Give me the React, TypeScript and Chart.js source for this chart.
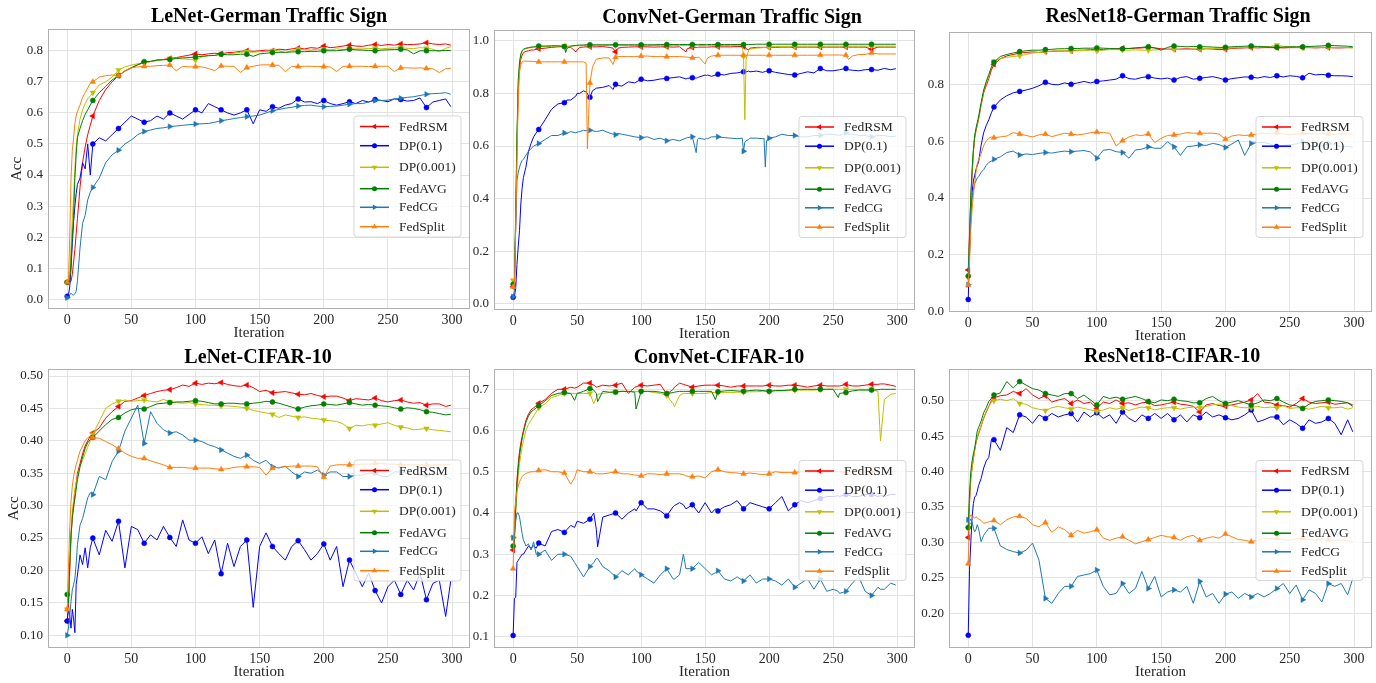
import React, { useEffect, useRef } from "react";
import { Chart, registerables } from "chart.js";

Chart.register(...registerables);

const FONT = "'Liberation Serif', 'Times New Roman', Times, serif";
const TEXT_COLOR = "#262626";
const GRID_COLOR = "#e3e3e3";
const SPINE_COLOR = "#b0b0b0";

// ---------------- series meta ----------------
const SERIES_NAMES = ["FedRSM", "DP(0.1)", "DP(0.001)", "FedAVG", "FedCG", "FedSplit"];
const SERIES_COLORS = ["#ff0000", "#0000ff", "#bfbf00", "#008000", "#1f77b4", "#ff7f0e"];
const SERIES_MARKERS = ["triangle", "circle", "triangle", "circle", "triangle", "triangle"];
const SERIES_MARKER_ROT = [270, 0, 180, 0, 90, 0];
const SERIES_MARKER_R = [3.2, 2.5, 3.2, 2.5, 3.2, 3.2];

const X_TICKS = [0, 50, 100, 150, 200, 250, 300];

// ---------------- iterations ----------------
const ITER_BASE = [0,1,2,3,4,5,6,7,8,10,12,14,16,18,20,
  25,30,35,40,45,50,55,60,65,70,75,80,85,90,95,100,
  105,110,115,120,125,130,135,140,145,150,155,160,165,170,175,180,185,190,195,200,
  205,210,215,220,225,230,235,240,245,250,255,260,265,270,275,280,285,290,295,299];

const ITER_CONV_GTS = [0,1,2,3,4,5,6,7,8,10,12,14,16,18,20,
  25,30,35,40,41,42,45,49,50,52,55,57,58,59,60,62,65,70,75,78,80,82,85,90,95,100,
  105,110,115,120,125,130,135,136,140,143,144,145,150,151,152,155,160,165,170,175,179,180,181,182,184,185,190,195,196,197,198,200,
  205,210,215,220,225,230,235,240,245,250,255,260,262,265,270,275,280,285,290,295,299];

const ITER_CONV_CIFAR = [0,1,2,3,4,5,6,7,8,10,12,14,16,18,20,
  25,30,35,40,45,48,50,55,60,63,65,66,70,75,80,85,90,95,96,100,
  105,110,115,120,125,126,130,133,135,140,145,150,155,158,160,165,170,175,180,185,190,195,200,
  205,210,215,220,225,230,235,240,245,250,254,255,260,265,270,275,280,285,287,290,295,299];

// ---------------- LeNet - German Traffic Sign ----------------
const LENET_GTS_FEDRSM = [0.055,0.056,0.056,0.058,0.08,0.12,0.16,0.21,0.26,0.36,0.44,0.49,0.53,0.56,0.59,
  0.64,0.675,0.70,0.72,0.735,0.745,0.755,0.762,0.765,0.77,0.772,0.775,0.778,0.782,0.786,0.79,
  0.787,0.79,0.792,0.79,0.794,0.795,0.798,0.80,0.798,0.80,0.802,0.80,0.805,0.803,0.806,0.808,0.806,0.81,0.808,0.815,
  0.81,0.812,0.815,0.818,0.815,0.814,0.818,0.82,0.817,0.82,0.818,0.822,0.82,0.82,0.822,0.826,0.822,0.82,0.822,0.818];
const LENET_GTS_DP01 = [0.01,0.015,0.04,0.10,0.18,0.25,0.30,0.34,0.37,0.39,0.44,0.42,0.50,0.40,0.50,
  0.52,0.51,0.53,0.55,0.57,0.59,0.58,0.57,0.575,0.59,0.58,0.60,0.59,0.58,0.595,0.61,
  0.60,0.63,0.62,0.61,0.60,0.593,0.60,0.61,0.565,0.61,0.605,0.62,0.615,0.625,0.63,0.645,0.635,0.636,0.63,0.64,
  0.63,0.625,0.63,0.636,0.63,0.64,0.635,0.643,0.64,0.636,0.645,0.643,0.638,0.64,0.648,0.617,0.635,0.64,0.645,0.62];
const LENET_GTS_DP0001 = [0.055,0.058,0.08,0.17,0.26,0.33,0.42,0.49,0.53,0.58,0.61,0.63,0.645,0.655,0.665,
  0.69,0.70,0.715,0.738,0.748,0.754,0.758,0.761,0.765,0.768,0.772,0.775,0.776,0.774,0.772,0.77,
  0.78,0.785,0.785,0.79,0.79,0.792,0.795,0.797,0.795,0.797,0.798,0.80,0.80,0.794,0.80,0.805,0.803,0.802,0.805,0.805,
  0.803,0.806,0.804,0.807,0.806,0.806,0.807,0.808,0.806,0.808,0.809,0.81,0.808,0.807,0.81,0.808,0.805,0.797,0.808,0.813];
const LENET_GTS_FEDAVG = [0.055,0.056,0.06,0.12,0.2,0.27,0.39,0.465,0.52,0.55,0.575,0.595,0.61,0.625,0.64,
  0.665,0.685,0.706,0.72,0.735,0.745,0.755,0.765,0.766,0.77,0.771,0.772,0.775,0.777,0.778,0.78,
  0.782,0.784,0.785,0.789,0.787,0.787,0.789,0.789,0.782,0.79,0.792,0.794,0.795,0.795,0.796,0.797,0.797,0.798,0.798,0.80,
  0.80,0.80,0.802,0.805,0.803,0.802,0.801,0.80,0.802,0.803,0.804,0.805,0.803,0.79,0.80,0.80,0.80,0.80,0.801,0.80];
const LENET_GTS_FEDCG = [0.005,0.008,0.015,0.02,0.015,0.014,0.018,0.025,0.06,0.165,0.245,0.27,0.32,0.345,0.36,
  0.39,0.44,0.465,0.48,0.50,0.513,0.53,0.54,0.545,0.55,0.552,0.556,0.558,0.56,0.562,0.564,
  0.565,0.566,0.57,0.575,0.578,0.582,0.585,0.588,0.59,0.593,0.60,0.607,0.611,0.615,0.618,0.622,0.624,0.625,0.622,0.62,
  0.621,0.622,0.625,0.628,0.63,0.63,0.635,0.64,0.64,0.641,0.645,0.647,0.65,0.652,0.656,0.66,0.662,0.663,0.665,0.66];
const LENET_GTS_FEDSPLIT = [0.055,0.06,0.2,0.39,0.48,0.52,0.565,0.59,0.605,0.625,0.65,0.665,0.68,0.695,0.70,
  0.715,0.72,0.722,0.72,0.735,0.745,0.748,0.75,0.75,0.752,0.753,0.754,0.736,0.75,0.748,0.749,
  0.748,0.743,0.736,0.751,0.75,0.75,0.73,0.746,0.75,0.754,0.755,0.754,0.753,0.733,0.75,0.749,0.75,0.75,0.749,0.749,
  0.748,0.733,0.75,0.75,0.75,0.75,0.749,0.75,0.75,0.75,0.733,0.745,0.745,0.744,0.745,0.743,0.742,0.73,0.742,0.743];

// ---------------- ConvNet - German Traffic Sign ----------------
const CONV_GTS_FEDRSM = [0.065,0.07,0.30,0.60,0.82,0.90,0.93,0.945,0.955,0.96,0.962,0.965,0.965,0.968,0.97,
  0.972,0.975,0.977,0.978,0.978,0.977,0.975,0.958,0.965,0.975,0.976,0.977,0.977,0.977,0.977,0.977,0.977,0.978,0.975,0.972,0.958,0.972,0.975,0.976,0.977,0.977,
  0.977,0.976,0.977,0.977,0.976,0.977,0.958,0.97,0.975,0.975,0.975,0.976,0.976,0.976,0.976,0.977,0.977,0.977,0.977,0.978,0.978,0.978,0.978,0.97,0.965,0.972,0.975,0.975,0.975,0.975,0.975,0.975,
  0.975,0.976,0.976,0.976,0.976,0.976,0.976,0.976,0.976,0.976,0.976,0.976,0.976,0.976,0.976,0.976,0.968,0.976,0.976,0.976,0.976];
const CONV_GTS_DP01 = [0.025,0.027,0.06,0.15,0.22,0.28,0.38,0.44,0.48,0.52,0.58,0.61,0.635,0.65,0.663,
  0.70,0.74,0.76,0.765,0.76,0.775,0.775,0.79,0.80,0.80,0.81,0.805,0.80,0.79,0.785,0.81,0.82,0.823,0.83,0.815,0.835,0.83,0.828,0.844,0.84,0.854,
  0.848,0.85,0.855,0.857,0.86,0.863,0.855,0.857,0.86,0.858,0.86,0.862,0.87,0.868,0.87,0.865,0.873,0.87,0.876,0.878,0.882,0.882,0.88,0.882,0.885,0.882,0.885,0.88,0.882,0.883,0.884,0.886,
  0.88,0.876,0.872,0.87,0.876,0.882,0.878,0.895,0.886,0.886,0.89,0.895,0.89,0.888,0.886,0.89,0.891,0.888,0.895,0.89,0.894];
const CONV_GTS_DP0001 = [0.09,0.09,0.33,0.62,0.84,0.91,0.945,0.96,0.966,0.97,0.972,0.974,0.975,0.976,0.978,
  0.978,0.979,0.98,0.981,0.981,0.98,0.98,0.981,0.981,0.981,0.982,0.982,0.982,0.982,0.982,0.982,0.982,0.982,0.982,0.982,0.982,0.982,0.982,0.982,0.982,0.982,
  0.982,0.982,0.982,0.982,0.982,0.982,0.982,0.982,0.982,0.982,0.982,0.982,0.982,0.982,0.982,0.982,0.982,0.982,0.982,0.982,0.982,0.94,0.70,0.93,0.965,0.968,0.972,0.974,0.975,0.975,0.975,0.976,
  0.978,0.978,0.979,0.979,0.98,0.98,0.98,0.98,0.98,0.98,0.98,0.98,0.98,0.98,0.98,0.98,0.98,0.98,0.98,0.98,0.98];
const CONV_GTS_FEDAVG = [0.075,0.08,0.35,0.65,0.85,0.92,0.95,0.962,0.968,0.972,0.974,0.976,0.977,0.978,0.98,
  0.98,0.981,0.981,0.978,0.955,0.97,0.98,0.982,0.983,0.984,0.984,0.985,0.985,0.985,0.985,0.985,0.985,0.985,0.985,0.985,0.985,0.985,0.985,0.985,0.985,0.985,
  0.985,0.985,0.986,0.986,0.986,0.986,0.986,0.986,0.986,0.986,0.986,0.986,0.986,0.986,0.986,0.986,0.986,0.986,0.986,0.986,0.986,0.986,0.986,0.986,0.986,0.986,0.987,0.987,0.987,0.987,0.987,0.987,
  0.987,0.987,0.987,0.987,0.987,0.987,0.987,0.987,0.987,0.987,0.987,0.987,0.987,0.987,0.987,0.987,0.987,0.987,0.987,0.987,0.987];
const CONV_GTS_FEDCG = [0.027,0.05,0.30,0.47,0.50,0.52,0.535,0.545,0.55,0.565,0.58,0.59,0.60,0.605,0.61,
  0.625,0.64,0.64,0.65,0.645,0.648,0.655,0.65,0.653,0.655,0.66,0.658,0.66,0.662,0.66,0.658,0.655,0.66,0.65,0.645,0.643,0.648,0.645,0.64,0.635,0.632,
  0.635,0.625,0.63,0.62,0.625,0.62,0.63,0.632,0.635,0.575,0.625,0.63,0.625,0.63,0.628,0.635,0.635,0.632,0.63,0.628,0.63,0.58,0.615,0.62,0.625,0.63,0.63,0.628,0.63,0.52,0.62,0.63,
  0.635,0.645,0.64,0.64,0.635,0.635,0.64,0.64,0.645,0.645,0.64,0.65,0.645,0.645,0.64,0.64,0.635,0.64,0.64,0.635,0.638];
const CONV_GTS_FEDSPLIT = [0.065,0.07,0.28,0.55,0.78,0.88,0.91,0.92,0.923,0.923,0.922,0.922,0.921,0.921,0.92,
  0.92,0.92,0.92,0.92,0.92,0.92,0.92,0.92,0.92,0.92,0.92,0.915,0.59,0.72,0.84,0.90,0.93,0.935,0.935,0.91,0.937,0.94,0.94,0.94,0.94,0.942,
  0.942,0.94,0.94,0.94,0.94,0.94,0.938,0.938,0.935,0.937,0.937,0.938,0.912,0.925,0.935,0.942,0.945,0.945,0.945,0.945,0.945,0.945,0.945,0.945,0.945,0.945,0.945,0.945,0.945,0.945,0.945,0.945,
  0.945,0.945,0.945,0.945,0.945,0.945,0.945,0.946,0.946,0.946,0.946,0.945,0.929,0.942,0.948,0.948,0.954,0.95,0.95,0.95,0.95];

// ---------------- ResNet18 - German Traffic Sign ----------------
const RES_GTS_FEDRSM = [0.147,0.27,0.40,0.48,0.56,0.61,0.635,0.655,0.675,0.725,0.77,0.795,0.82,0.85,0.87,
  0.89,0.90,0.905,0.91,0.912,0.914,0.912,0.915,0.916,0.917,0.917,0.918,0.92,0.92,0.922,0.923,
  0.922,0.924,0.925,0.927,0.926,0.927,0.928,0.93,0.928,0.925,0.924,0.923,0.924,0.925,0.924,0.923,0.925,0.924,0.922,0.923,
  0.926,0.927,0.928,0.929,0.928,0.929,0.929,0.929,0.928,0.929,0.929,0.929,0.929,0.928,0.929,0.929,0.928,0.928,0.929,0.929];
const RES_GTS_DP01 = [0.043,0.20,0.33,0.42,0.46,0.48,0.50,0.515,0.525,0.585,0.63,0.655,0.675,0.70,0.72,
  0.745,0.76,0.77,0.775,0.78,0.786,0.795,0.807,0.80,0.798,0.805,0.80,0.805,0.81,0.805,0.81,
  0.812,0.815,0.818,0.83,0.82,0.818,0.824,0.827,0.822,0.819,0.822,0.815,0.824,0.827,0.818,0.821,0.824,0.827,0.822,0.815,
  0.82,0.823,0.826,0.825,0.822,0.827,0.824,0.83,0.826,0.83,0.828,0.823,0.839,0.833,0.835,0.832,0.83,0.83,0.829,0.827];
const RES_GTS_DP0001 = [0.12,0.25,0.39,0.49,0.565,0.615,0.64,0.66,0.68,0.73,0.775,0.805,0.83,0.86,0.88,
  0.89,0.895,0.898,0.90,0.905,0.91,0.912,0.915,0.917,0.918,0.918,0.917,0.918,0.919,0.92,0.918,
  0.92,0.922,0.922,0.921,0.92,0.921,0.92,0.92,0.921,0.922,0.923,0.923,0.922,0.923,0.924,0.925,0.926,0.926,0.926,0.927,
  0.928,0.929,0.93,0.931,0.932,0.932,0.933,0.938,0.933,0.932,0.931,0.93,0.93,0.93,0.93,0.931,0.93,0.93,0.929,0.928];
const RES_GTS_FEDAVG = [0.126,0.26,0.41,0.50,0.57,0.62,0.645,0.665,0.685,0.735,0.78,0.81,0.835,0.86,0.878,
  0.898,0.905,0.91,0.915,0.918,0.92,0.92,0.922,0.923,0.925,0.925,0.926,0.926,0.927,0.927,0.928,
  0.927,0.926,0.925,0.925,0.926,0.928,0.93,0.932,0.928,0.92,0.93,0.935,0.933,0.932,0.933,0.932,0.932,0.931,0.93,0.93,
  0.932,0.933,0.934,0.935,0.933,0.932,0.931,0.93,0.931,0.932,0.932,0.932,0.933,0.934,0.935,0.937,0.936,0.935,0.934,0.932];
const RES_GTS_FEDCG = [0.095,0.22,0.34,0.40,0.43,0.45,0.46,0.47,0.475,0.49,0.50,0.515,0.525,0.53,0.536,
  0.545,0.56,0.565,0.551,0.555,0.553,0.557,0.56,0.558,0.562,0.565,0.563,0.565,0.567,0.562,0.54,
  0.568,0.571,0.563,0.56,0.54,0.569,0.572,0.58,0.575,0.575,0.598,0.58,0.55,0.58,0.583,0.587,0.585,0.592,0.588,0.578,
  0.59,0.604,0.55,0.592,0.595,0.595,0.59,0.58,0.585,0.587,0.59,0.598,0.585,0.58,0.583,0.592,0.588,0.58,0.582,0.578];
const RES_GTS_FEDSPLIT = [0.094,0.17,0.29,0.36,0.41,0.45,0.49,0.52,0.535,0.555,0.585,0.60,0.61,0.615,0.612,
  0.615,0.618,0.63,0.625,0.62,0.615,0.622,0.625,0.616,0.622,0.628,0.625,0.622,0.625,0.63,0.632,
  0.63,0.628,0.583,0.602,0.615,0.622,0.62,0.625,0.595,0.61,0.62,0.622,0.625,0.63,0.628,0.628,0.628,0.628,0.625,0.607,
  0.618,0.622,0.62,0.622,0.625,0.628,0.625,0.63,0.625,0.622,0.625,0.628,0.626,0.628,0.627,0.625,0.624,0.626,0.625,0.625];

// ---------------- LeNet - CIFAR-10 ----------------
const LENET_CIFAR_FEDRSM = [0.122,0.142,0.20,0.25,0.285,0.296,0.32,0.335,0.35,0.365,0.38,0.392,0.40,0.407,0.412,
  0.42,0.435,0.445,0.453,0.461,0.462,0.466,0.47,0.473,0.476,0.478,0.479,0.482,0.486,0.484,0.489,
  0.487,0.489,0.488,0.49,0.487,0.485,0.484,0.486,0.482,0.476,0.478,0.474,0.475,0.476,0.474,0.472,0.471,0.473,0.47,0.468,
  0.469,0.469,0.466,0.462,0.465,0.464,0.463,0.466,0.462,0.46,0.462,0.463,0.46,0.458,0.459,0.455,0.457,0.457,0.453,0.455];
const LENET_CIFAR_DP01 = [0.122,0.142,0.13,0.111,0.14,0.125,0.104,0.178,0.193,0.224,0.209,0.235,0.204,0.235,0.25,
  0.224,0.262,0.245,0.276,0.204,0.268,0.263,0.242,0.255,0.247,0.268,0.251,0.237,0.278,0.247,0.242,
  0.252,0.226,0.247,0.195,0.242,0.206,0.237,0.247,0.143,0.237,0.258,0.237,0.226,0.216,0.237,0.246,0.232,0.216,0.226,0.241,
  0.216,0.237,0.175,0.216,0.196,0.175,0.196,0.169,0.15,0.175,0.185,0.163,0.185,0.17,0.196,0.155,0.18,0.185,0.129,0.185];
const LENET_CIFAR_DP0001 = [0.14,0.16,0.21,0.26,0.29,0.31,0.325,0.335,0.345,0.36,0.37,0.38,0.39,0.40,0.41,
  0.43,0.45,0.457,0.461,0.463,0.461,0.462,0.463,0.461,0.46,0.464,0.46,0.459,0.458,0.459,0.457,
  0.456,0.455,0.455,0.454,0.454,0.453,0.452,0.45,0.447,0.445,0.443,0.441,0.436,0.44,0.438,0.436,0.437,0.435,0.434,0.432,
  0.431,0.43,0.426,0.419,0.424,0.423,0.425,0.424,0.426,0.428,0.424,0.421,0.42,0.417,0.418,0.419,0.417,0.416,0.415,0.414];
const LENET_CIFAR_FEDAVG = [0.163,0.15,0.21,0.255,0.28,0.30,0.31,0.325,0.34,0.36,0.375,0.388,0.397,0.402,0.405,
  0.415,0.425,0.433,0.436,0.443,0.448,0.45,0.449,0.453,0.457,0.458,0.459,0.46,0.46,0.461,0.462,
  0.461,0.459,0.457,0.457,0.458,0.458,0.457,0.457,0.458,0.459,0.461,0.46,0.458,0.455,0.452,0.449,0.452,0.454,0.455,0.457,
  0.456,0.455,0.457,0.459,0.457,0.455,0.456,0.455,0.454,0.453,0.451,0.449,0.451,0.45,0.448,0.445,0.444,0.442,0.44,0.441];
const LENET_CIFAR_FEDCG = [0.10,0.111,0.13,0.152,0.17,0.178,0.188,0.21,0.24,0.27,0.28,0.296,0.312,0.32,0.317,
  0.345,0.34,0.368,0.384,0.415,0.435,0.455,0.396,0.445,0.427,0.417,0.412,0.414,0.409,0.401,0.401,
  0.399,0.394,0.391,0.386,0.381,0.376,0.373,0.378,0.37,0.365,0.37,0.36,0.358,0.361,0.352,0.345,0.352,0.35,0.355,0.347,
  0.352,0.352,0.345,0.345,0.347,0.347,0.35,0.35,0.345,0.345,0.352,0.352,0.35,0.35,0.347,0.347,0.35,0.35,0.345,0.34];
const LENET_CIFAR_FEDSPLIT = [0.14,0.204,0.266,0.307,0.33,0.345,0.355,0.363,0.37,0.384,0.392,0.40,0.405,0.407,0.405,
  0.404,0.399,0.394,0.388,0.381,0.376,0.373,0.373,0.369,0.366,0.363,0.359,0.359,0.359,0.358,0.358,
  0.358,0.358,0.357,0.356,0.357,0.359,0.36,0.36,0.36,0.359,0.347,0.358,0.359,0.36,0.361,0.361,0.361,0.361,0.36,0.344,
  0.361,0.363,0.363,0.363,0.363,0.364,0.364,0.365,0.365,0.364,0.364,0.363,0.363,0.363,0.363,0.363,0.363,0.363,0.363,0.363];

// ---------------- ConvNet - CIFAR-10 ----------------
const CONV_CIFAR_FEDRSM = [0.31,0.33,0.42,0.48,0.52,0.55,0.57,0.585,0.60,0.625,0.64,0.65,0.655,0.66,0.666,
  0.675,0.69,0.70,0.70,0.705,0.703,0.705,0.715,0.715,0.71,0.705,0.706,0.71,0.708,0.71,0.715,0.69,0.705,0.706,0.71,
  0.708,0.71,0.712,0.688,0.70,0.705,0.715,0.712,0.71,0.705,0.708,0.71,0.71,0.71,0.71,0.708,0.705,0.708,0.708,0.708,0.708,0.708,0.71,
  0.708,0.708,0.71,0.71,0.708,0.705,0.708,0.71,0.708,0.708,0.708,0.708,0.712,0.708,0.708,0.71,0.712,0.712,0.713,0.713,0.71,0.707];
const CONV_CIFAR_DP01 = [0.103,0.193,0.195,0.28,0.285,0.29,0.295,0.30,0.30,0.31,0.32,0.315,0.32,0.315,0.327,
  0.32,0.355,0.36,0.353,0.37,0.365,0.38,0.375,0.385,0.40,0.36,0.318,0.39,0.395,0.40,0.385,0.40,0.41,0.405,0.425,
  0.41,0.41,0.405,0.393,0.415,0.418,0.425,0.42,0.41,0.42,0.40,0.425,0.40,0.41,0.405,0.415,0.42,0.43,0.41,0.425,0.42,0.415,0.41,
  0.425,0.44,0.405,0.42,0.43,0.425,0.43,0.435,0.44,0.44,0.442,0.44,0.445,0.44,0.44,0.445,0.445,0.44,0.442,0.44,0.445,0.445];
const CONV_CIFAR_DP0001 = [0.34,0.35,0.40,0.45,0.49,0.52,0.54,0.56,0.575,0.60,0.615,0.625,0.635,0.645,0.655,
  0.665,0.68,0.685,0.69,0.69,0.69,0.69,0.69,0.69,0.665,0.68,0.688,0.69,0.692,0.695,0.695,0.695,0.695,0.695,0.695,
  0.695,0.692,0.69,0.685,0.665,0.658,0.685,0.69,0.69,0.69,0.69,0.69,0.692,0.692,0.692,0.692,0.692,0.693,0.693,0.694,0.694,0.695,0.695,
  0.696,0.696,0.697,0.698,0.698,0.698,0.698,0.70,0.70,0.70,0.70,0.70,0.70,0.70,0.70,0.70,0.70,0.695,0.575,0.675,0.688,0.69];
const CONV_CIFAR_FEDAVG = [0.32,0.34,0.41,0.47,0.51,0.54,0.56,0.58,0.595,0.62,0.635,0.645,0.65,0.655,0.66,
  0.672,0.685,0.69,0.692,0.69,0.673,0.69,0.695,0.702,0.698,0.69,0.67,0.695,0.693,0.693,0.695,0.695,0.693,0.652,0.695,
  0.695,0.695,0.693,0.69,0.692,0.693,0.695,0.695,0.695,0.695,0.695,0.695,0.695,0.675,0.694,0.696,0.697,0.696,0.695,0.697,0.698,0.697,0.695,
  0.697,0.697,0.698,0.70,0.70,0.70,0.70,0.70,0.70,0.70,0.68,0.69,0.692,0.696,0.698,0.698,0.698,0.699,0.70,0.70,0.70,0.70];
const CONV_CIFAR_FEDCG = [0.34,0.35,0.38,0.40,0.40,0.39,0.37,0.35,0.335,0.32,0.325,0.31,0.33,0.30,0.30,
  0.31,0.285,0.30,0.30,0.295,0.28,0.27,0.245,0.27,0.28,0.29,0.29,0.27,0.26,0.245,0.26,0.25,0.265,0.26,0.25,
  0.24,0.23,0.25,0.265,0.24,0.24,0.25,0.30,0.265,0.265,0.28,0.265,0.25,0.255,0.26,0.24,0.235,0.245,0.235,0.25,0.23,0.24,0.24,
  0.235,0.225,0.24,0.22,0.23,0.24,0.215,0.24,0.21,0.215,0.21,0.205,0.21,0.23,0.245,0.21,0.20,0.22,0.215,0.215,0.23,0.225];
const CONV_CIFAR_FEDSPLIT = [0.265,0.40,0.43,0.452,0.465,0.476,0.482,0.488,0.492,0.496,0.498,0.50,0.50,0.502,0.503,
  0.505,0.50,0.50,0.497,0.47,0.485,0.505,0.50,0.50,0.498,0.495,0.495,0.495,0.497,0.50,0.495,0.495,0.492,0.492,0.49,
  0.495,0.495,0.493,0.495,0.495,0.495,0.495,0.493,0.49,0.488,0.49,0.485,0.50,0.503,0.505,0.50,0.498,0.497,0.495,0.497,0.495,0.493,0.495,
  0.50,0.498,0.498,0.498,0.50,0.50,0.50,0.50,0.50,0.50,0.50,0.50,0.50,0.50,0.50,0.50,0.50,0.50,0.50,0.50,0.50,0.50];

// ---------------- ResNet18 - CIFAR-10 ----------------
const RES_CIFAR_FEDRSM = [0.307,0.355,0.39,0.405,0.418,0.43,0.44,0.447,0.453,0.464,0.475,0.484,0.492,0.50,0.504,
  0.507,0.508,0.513,0.51,0.517,0.508,0.503,0.507,0.498,0.501,0.503,0.496,0.501,0.496,0.498,0.489,
  0.498,0.496,0.501,0.496,0.497,0.494,0.497,0.498,0.493,0.494,0.496,0.498,0.495,0.494,0.492,0.484,0.494,0.496,0.493,0.492,
  0.494,0.496,0.498,0.501,0.51,0.498,0.497,0.494,0.493,0.491,0.496,0.503,0.498,0.496,0.497,0.498,0.495,0.496,0.497,0.494];
const RES_CIFAR_DP01 = [0.169,0.26,0.30,0.335,0.355,0.364,0.366,0.372,0.38,0.39,0.405,0.415,0.42,0.445,0.445,
  0.43,0.462,0.455,0.48,0.477,0.468,0.48,0.475,0.482,0.477,0.48,0.482,0.47,0.484,0.477,0.483,
  0.475,0.48,0.468,0.484,0.475,0.47,0.48,0.475,0.482,0.475,0.482,0.473,0.48,0.47,0.48,0.476,0.484,0.477,0.48,0.476,
  0.473,0.475,0.48,0.487,0.47,0.473,0.477,0.477,0.466,0.473,0.468,0.461,0.473,0.468,0.47,0.475,0.468,0.452,0.473,0.456];
const RES_CIFAR_DP0001 = [0.32,0.36,0.39,0.405,0.418,0.43,0.44,0.448,0.455,0.465,0.476,0.485,0.492,0.498,0.50,
  0.502,0.50,0.503,0.496,0.495,0.49,0.488,0.486,0.49,0.492,0.49,0.488,0.491,0.489,0.487,0.485,
  0.487,0.49,0.488,0.49,0.486,0.489,0.491,0.49,0.487,0.489,0.49,0.49,0.488,0.49,0.491,0.49,0.492,0.494,0.495,0.495,
  0.493,0.491,0.49,0.49,0.492,0.49,0.491,0.49,0.493,0.489,0.49,0.49,0.488,0.49,0.492,0.49,0.49,0.491,0.488,0.49];
const RES_CIFAR_FEDAVG = [0.321,0.37,0.40,0.415,0.425,0.433,0.445,0.457,0.462,0.471,0.483,0.49,0.499,0.503,0.508,
  0.511,0.527,0.518,0.527,0.522,0.517,0.515,0.51,0.508,0.506,0.51,0.51,0.503,0.508,0.501,0.494,
  0.506,0.503,0.505,0.502,0.504,0.506,0.503,0.499,0.497,0.501,0.50,0.502,0.50,0.499,0.497,0.497,0.503,0.506,0.50,0.496,
  0.498,0.50,0.497,0.494,0.497,0.501,0.50,0.503,0.498,0.494,0.493,0.489,0.495,0.499,0.50,0.501,0.50,0.499,0.497,0.492];
const RES_CIFAR_FEDCG = [0.332,0.325,0.327,0.329,0.32,0.315,0.318,0.325,0.32,0.301,0.31,0.315,0.32,0.32,0.32,
  0.295,0.29,0.287,0.285,0.289,0.299,0.275,0.221,0.214,0.228,0.238,0.238,0.252,0.254,0.256,0.261,
  0.238,0.226,0.228,0.242,0.228,0.235,0.259,0.235,0.252,0.223,0.23,0.233,0.23,0.238,0.214,0.245,0.223,0.228,0.214,0.227,
  0.23,0.221,0.228,0.223,0.228,0.223,0.228,0.235,0.242,0.228,0.24,0.219,0.233,0.228,0.216,0.242,0.238,0.242,0.226,0.249];
const RES_CIFAR_FEDSPLIT = [0.27,0.335,0.339,0.338,0.336,0.334,0.336,0.335,0.333,0.331,0.327,0.328,0.329,0.33,0.331,
  0.325,0.332,0.336,0.337,0.334,0.325,0.322,0.328,0.314,0.322,0.318,0.31,0.317,0.313,0.315,0.318,
  0.306,0.303,0.306,0.308,0.303,0.298,0.301,0.304,0.307,0.31,0.308,0.307,0.303,0.308,0.31,0.303,0.306,0.308,0.306,0.312,
  0.308,0.304,0.303,0.301,0.303,0.306,0.305,0.306,0.304,0.303,0.305,0.306,0.304,0.303,0.305,0.304,0.303,0.303,0.302,0.301];

// ---------------- y ticks ----------------
const Y_TICKS_LENET_GTS = [0.0, 0.1, 0.2, 0.3, 0.4, 0.5, 0.6, 0.7, 0.8];
const Y_TICKS_CONV_GTS = [0.0, 0.2, 0.4, 0.6, 0.8, 1.0];
const Y_TICKS_RES_GTS = [0.0, 0.2, 0.4, 0.6, 0.8];
const Y_TICKS_LENET_CIFAR = [0.10, 0.15, 0.20, 0.25, 0.30, 0.35, 0.40, 0.45, 0.50];
const Y_TICKS_CONV_CIFAR = [0.1, 0.2, 0.3, 0.4, 0.5, 0.6, 0.7];
const Y_TICKS_RES_CIFAR = [0.20, 0.25, 0.30, 0.35, 0.40, 0.45, 0.50];

// ---------------- layout ----------------
const Y_AXIS_W = 48;
const X_AXIS_H = 34;
const PAD_TOP = 30;
const PAD_RIGHT = 4;
const LEGEND_ROWS = [10.5, 29.7, 51.3, 72.7, 91.3, 110.7];

type Panel = {
  title: string;
  iters: number[];
  values: number[][];
  yMin: number;
  yMax: number;
  yTicks: number[];
  yDec: number;
  yLabel: boolean;
  yLabelPad: number;
  area: { l: number; t: number; r: number; b: number };
  titlePos: { x: number; y: number };
  legend: { x: number; y: number; w: number; h: number };
};

const PANELS: Panel[] = [
  {
    title: "LeNet-German Traffic Sign",
    iters: ITER_BASE,
    values: [LENET_GTS_FEDRSM, LENET_GTS_DP01, LENET_GTS_DP0001, LENET_GTS_FEDAVG, LENET_GTS_FEDCG, LENET_GTS_FEDSPLIT],
    yMin: -0.031, yMax: 0.870, yTicks: Y_TICKS_LENET_GTS, yDec: 1, yLabel: true, yLabelPad: 8,
    area: { l: 48, t: 29, r: 470, b: 309 },
    titlePos: { x: 269, y: 22 },
    legend: { x: 354, y: 116, w: 107, h: 121 },
  },
  {
    title: "ConvNet-German Traffic Sign",
    iters: ITER_CONV_GTS,
    values: [CONV_GTS_FEDRSM, CONV_GTS_DP01, CONV_GTS_DP0001, CONV_GTS_FEDAVG, CONV_GTS_FEDCG, CONV_GTS_FEDSPLIT],
    yMin: -0.023, yMax: 1.041, yTicks: Y_TICKS_CONV_GTS, yDec: 1, yLabel: false, yLabelPad: 0,
    area: { l: 494, t: 30, r: 915, b: 310 },
    titlePos: { x: 732, y: 23 },
    legend: { x: 799, y: 116.5, w: 107, h: 121 },
  },
  {
    title: "ResNet18-German Traffic Sign",
    iters: ITER_BASE,
    values: [RES_GTS_FEDRSM, RES_GTS_DP01, RES_GTS_DP0001, RES_GTS_FEDAVG, RES_GTS_FEDCG, RES_GTS_FEDSPLIT],
    yMin: -0.001, yMax: 0.984, yTicks: Y_TICKS_RES_GTS, yDec: 1, yLabel: false, yLabelPad: 0,
    area: { l: 949, t: 32, r: 1372, b: 312 },
    titlePos: { x: 1178, y: 22 },
    legend: { x: 1256, y: 116.5, w: 107, h: 121 },
  },
  {
    title: "LeNet-CIFAR-10",
    iters: ITER_BASE,
    values: [LENET_CIFAR_FEDRSM, LENET_CIFAR_DP01, LENET_CIFAR_DP0001, LENET_CIFAR_FEDAVG, LENET_CIFAR_FEDCG, LENET_CIFAR_FEDSPLIT],
    yMin: 0.0804, yMax: 0.5108, yTicks: Y_TICKS_LENET_CIFAR, yDec: 2, yLabel: true, yLabelPad: 5,
    area: { l: 48, t: 369, r: 470, b: 648 },
    titlePos: { x: 258, y: 363 },
    legend: { x: 354, y: 460, w: 107, h: 121 },
  },
  {
    title: "ConvNet-CIFAR-10",
    iters: ITER_CONV_CIFAR,
    values: [CONV_CIFAR_FEDRSM, CONV_CIFAR_DP01, CONV_CIFAR_DP0001, CONV_CIFAR_FEDAVG, CONV_CIFAR_FEDCG, CONV_CIFAR_FEDSPLIT],
    yMin: 0.0726, yMax: 0.7492, yTicks: Y_TICKS_CONV_CIFAR, yDec: 1, yLabel: false, yLabelPad: 0,
    area: { l: 494, t: 369, r: 915, b: 648 },
    titlePos: { x: 719, y: 363 },
    legend: { x: 799, y: 460.5, w: 107, h: 120 },
  },
  {
    title: "ResNet18-CIFAR-10",
    iters: ITER_BASE,
    values: [RES_CIFAR_FEDRSM, RES_CIFAR_DP01, RES_CIFAR_DP0001, RES_CIFAR_FEDAVG, RES_CIFAR_FEDCG, RES_CIFAR_FEDSPLIT],
    yMin: 0.151, yMax: 0.5447, yTicks: Y_TICKS_RES_CIFAR, yDec: 2, yLabel: false, yLabelPad: 0,
    area: { l: 949, t: 369, r: 1372, b: 648 },
    titlePos: { x: 1172, y: 362 },
    legend: { x: 1256, y: 460.5, w: 107, h: 120 },
  },
];

function canvasBox(p: Panel) {
  return {
    left: p.area.l - Y_AXIS_W,
    top: p.area.t - PAD_TOP,
    width: p.area.r - p.area.l + Y_AXIS_W + PAD_RIGHT,
    height: p.area.b - p.area.t + PAD_TOP + X_AXIS_H,
  };
}

function drawMarker(ctx: CanvasRenderingContext2D, style: string, rot: number, r: number, x: number, y: number) {
  ctx.beginPath();
  if (style === "circle") {
    ctx.arc(x, y, r, 0, Math.PI * 2);
  } else {
    let a = (rot * Math.PI) / 180;
    ctx.moveTo(x + Math.sin(a) * r, y - Math.cos(a) * r);
    a += (2 * Math.PI) / 3;
    ctx.lineTo(x + Math.sin(a) * r, y - Math.cos(a) * r);
    a += (2 * Math.PI) / 3;
    ctx.lineTo(x + Math.sin(a) * r, y - Math.cos(a) * r);
    ctx.closePath();
  }
  ctx.fill();
}

function makeDecorPlugin(p: Panel) {
  const box = canvasBox(p);
  return {
    id: "decor",
    afterDraw(chart: any) {
      const ctx: CanvasRenderingContext2D = chart.ctx;
      const a = chart.chartArea;
      ctx.save();
      // spines
      ctx.strokeStyle = SPINE_COLOR;
      ctx.lineWidth = 1;
      ctx.strokeRect(Math.round(a.left) + 0.5, Math.round(a.top) + 0.5, Math.round(a.right - a.left) - 1, Math.round(a.bottom - a.top) - 1);

      // legend
      const lx = p.legend.x - box.left;
      const ly = p.legend.y - box.top;
      const w = p.legend.w;
      const h = p.legend.h;
      const rad = 3;
      ctx.beginPath();
      ctx.moveTo(lx + rad, ly);
      ctx.lineTo(lx + w - rad, ly);
      ctx.quadraticCurveTo(lx + w, ly, lx + w, ly + rad);
      ctx.lineTo(lx + w, ly + h - rad);
      ctx.quadraticCurveTo(lx + w, ly + h, lx + w - rad, ly + h);
      ctx.lineTo(lx + rad, ly + h);
      ctx.quadraticCurveTo(lx, ly + h, lx, ly + h - rad);
      ctx.lineTo(lx, ly + rad);
      ctx.quadraticCurveTo(lx, ly, lx + rad, ly);
      ctx.closePath();
      ctx.fillStyle = "rgba(255,255,255,0.8)";
      ctx.fill();
      ctx.strokeStyle = "rgba(204,204,204,0.8)";
      ctx.lineWidth = 1;
      ctx.stroke();

      ctx.font = `13.5px ${FONT}`;
      ctx.textBaseline = "middle";
      ctx.textAlign = "left";
      SERIES_NAMES.forEach((name, i) => {
        const yy = ly + LEGEND_ROWS[i];
        ctx.strokeStyle = SERIES_COLORS[i];
        ctx.lineWidth = 1.5;
        ctx.beginPath();
        ctx.moveTo(lx + 6, yy);
        ctx.lineTo(lx + 35, yy);
        ctx.stroke();
        ctx.fillStyle = SERIES_COLORS[i];
        drawMarker(ctx, SERIES_MARKERS[i], SERIES_MARKER_ROT[i], SERIES_MARKER_R[i], lx + 20.5, yy);
        ctx.fillStyle = TEXT_COLOR;
        ctx.fillText(name, lx + 45, yy + 0.5);
      });

      // title
      ctx.font = `bold 20px ${FONT}`;
      ctx.fillStyle = "#000000";
      ctx.textAlign = "center";
      ctx.textBaseline = "alphabetic";
      ctx.fillText(p.title, p.titlePos.x - box.left, p.titlePos.y - box.top);
      ctx.restore();
    },
  };
}

function buildConfig(p: Panel): any {
  return {
    type: "line",
    data: {
      datasets: SERIES_NAMES.map((name, si) => ({
        label: name,
        data: p.iters.map((x, i) => ({ x, y: p.values[si][i] })),
        borderColor: SERIES_COLORS[si],
        backgroundColor: SERIES_COLORS[si],
        borderWidth: 1,
        pointStyle: SERIES_MARKERS[si],
        pointRotation: SERIES_MARKER_ROT[si],
        pointRadius: (c: any) => {
          const x = p.iters[c.dataIndex];
          return x % 20 === 0 && x <= 280 ? SERIES_MARKER_R[si] : 0;
        },
        pointHoverRadius: 0,
        pointBorderWidth: 0.5,
        pointBackgroundColor: SERIES_COLORS[si],
        pointBorderColor: SERIES_COLORS[si],
        tension: 0,
        fill: false,
        order: SERIES_NAMES.length - 1 - si,
      })),
    },
    options: {
      animation: false,
      responsive: false,
      devicePixelRatio: 1,
      events: [],
      layout: { padding: { top: PAD_TOP, right: PAD_RIGHT, left: 0, bottom: 0 } },
      plugins: {
        legend: { display: false },
        tooltip: { enabled: false },
        title: { display: false },
      },
      scales: {
        x: {
          type: "linear",
          min: -14.95,
          max: 313.95,
          afterBuildTicks: (s: any) => {
            s.ticks = X_TICKS.map((v) => ({ value: v }));
          },
          afterFit: (s: any) => {
            s.height = X_AXIS_H;
          },
          grid: { color: GRID_COLOR, lineWidth: 1, drawTicks: false },
          border: { display: false },
          ticks: {
            padding: 3,
            color: TEXT_COLOR,
            font: { family: FONT, size: 14 },
            autoSkip: false,
            maxRotation: 0,
            callback: (v: any) => String(v),
          },
          title: {
            display: true,
            text: "Iteration",
            color: TEXT_COLOR,
            font: { family: FONT, size: 15 },
            padding: { top: 0, bottom: 1 },
          },
        },
        y: {
          type: "linear",
          min: p.yMin,
          max: p.yMax,
          afterBuildTicks: (s: any) => {
            s.ticks = p.yTicks.map((v) => ({ value: v }));
          },
          afterFit: (s: any) => {
            s.width = Y_AXIS_W;
          },
          grid: { color: GRID_COLOR, lineWidth: 1, drawTicks: false },
          border: { display: false },
          ticks: {
            padding: 5,
            color: TEXT_COLOR,
            font: { family: FONT, size: 13 },
            autoSkip: false,
            callback: (v: any) => Number(v).toFixed(p.yDec),
          },
          title: {
            display: p.yLabel,
            text: "Acc",
            color: TEXT_COLOR,
            font: { family: FONT, size: 15 },
            padding: { top: p.yLabelPad, bottom: 0 },
          },
        },
      },
    },
    plugins: [makeDecorPlugin(p)],
  };
}

export default function App() {
  const refs = useRef<(HTMLCanvasElement | null)[]>([]);

  useEffect(() => {
    const charts: Chart[] = [];
    PANELS.forEach((p, i) => {
      const c = refs.current[i];
      if (!c) return;
      charts.push(new Chart(c, buildConfig(p)));
    });
    return () => {
      charts.forEach((ch) => ch.destroy());
    };
  }, []);

  return (
    <div
      style={{
        position: "absolute",
        left: 0,
        top: 0,
        width: 1376,
        height: 683,
        overflow: "hidden",
        background: "#ffffff",
      }}
    >
      {PANELS.map((p, i) => {
        const b = canvasBox(p);
        return (
          <canvas
            key={i}
            ref={(el) => {
              refs.current[i] = el;
            }}
            width={b.width}
            height={b.height}
            style={{ position: "absolute", left: b.left, top: b.top, width: b.width, height: b.height }}
          />
        );
      })}
    </div>
  );
}
